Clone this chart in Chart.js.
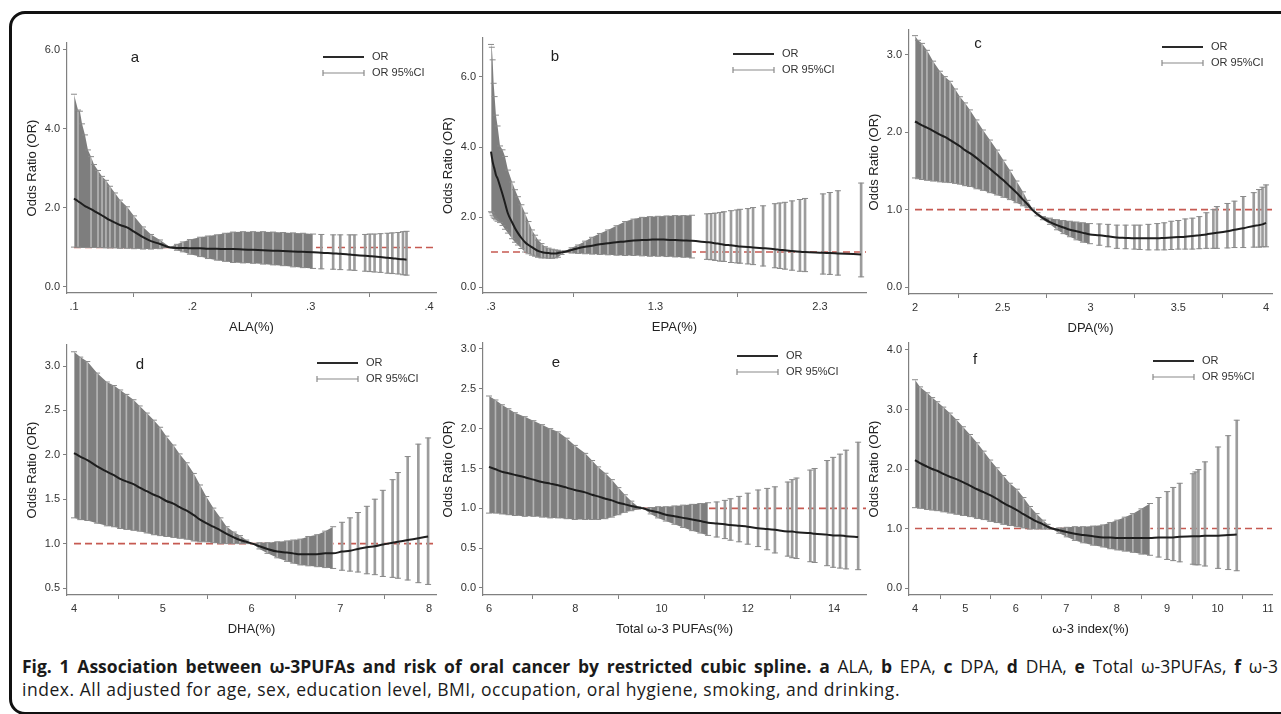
<!DOCTYPE html>
<html>
<head>
<meta charset="utf-8">
<script src="https://cdn.jsdelivr.net/npm/chart.js@4.4.1/dist/chart.umd.min.js"></script>
<style>
  html, body { margin: 0; padding: 0; background: #fff; }
  body { width: 1281px; height: 714px; position: relative; overflow: hidden; }
  #frame { position: absolute; left: 9px; top: 11px; width: 1300px; height: 704px; border: 3px solid #111; border-radius: 16px; box-sizing: border-box; }
  canvas { position: absolute; }
  #caption { position: absolute; left: 22px; top: 655px; font-family: "Open Sans", sans-serif; font-size: 17.5px; color: #1a1a1a; line-height: 23px; }
  #caption span.line { display: block; white-space: nowrap; width: max-content; }
  #caption b { font-weight: 700; }
</style>
</head>
<body>
<div id="frame"></div>
<div id="caption">
  <span class="line" id="cap1"><b>Fig. 1 Association between ω-3PUFAs and risk of oral cancer by restricted cubic spline. a</b> ALA, <b>b</b> EPA, <b>c</b> DPA, <b>d</b> DHA, <b>e</b> Total ω-3PUFAs, <b>f</b> ω-3</span>
  <span class="line" id="cap2">index. All adjusted for age, sex, education level, BMI, occupation, oral hygiene, smoking, and drinking.</span>
</div>
<script>
// ---- a: ALA ----
const alaX = [0.100,0.1034,0.105,0.1068,0.1093,0.1118,0.1144,0.1169,0.1203,0.1237,0.127,0.1304,0.1346,0.1389,0.1448,0.1507,0.1583,0.1651,0.1727,0.1811,
  0.187,0.192,0.198,0.2065,0.2132,0.2208,0.2276,0.2344,0.2428,0.2513,0.2597,0.2682,0.2766,0.2851,0.2935,0.302,
  0.309,0.319,0.325,0.333,0.337,0.346,0.350,0.354,0.359,0.365,0.369,0.374,0.378,0.381];
const alaOR = [2.24,2.17,2.14,2.10,2.05,2.01,1.97,1.93,1.87,1.81,1.75,1.69,1.63,1.57,1.51,1.40,1.26,1.16,1.09,1.00,
  0.99,0.99,0.98,0.98,0.97,0.97,0.96,0.96,0.95,0.94,0.93,0.92,0.91,0.90,0.89,0.88,
  0.87,0.85,0.84,0.82,0.81,0.79,0.78,0.77,0.76,0.74,0.73,0.71,0.70,0.69];
const alaLo = [1.01,1.01,1.00,1.00,1.00,1.00,1.00,1.00,1.00,1.00,0.99,0.99,0.99,0.98,0.98,0.97,0.96,0.96,0.97,1.00,
  0.93,0.89,0.83,0.77,0.72,0.68,0.65,0.62,0.61,0.60,0.58,0.56,0.54,0.51,0.49,0.47,
  0.46,0.45,0.44,0.43,0.42,0.40,0.39,0.38,0.37,0.35,0.34,0.33,0.31,0.30];
const alaHi = [4.88,4.48,4.45,4.13,3.85,3.47,3.30,3.10,2.95,2.80,2.70,2.55,2.38,2.20,2.03,1.80,1.52,1.33,1.19,1.01,
  1.08,1.14,1.20,1.26,1.29,1.32,1.36,1.39,1.40,1.40,1.40,1.39,1.38,1.37,1.36,1.34,
  1.33,1.32,1.32,1.32,1.32,1.33,1.34,1.34,1.35,1.36,1.37,1.38,1.40,1.41];
const alaXTicks = [0.1, 0.2, 0.3, 0.4];
const alaXLabels = ['.1', '.2', '.3', '.4'];
const alaYTicks = [0, 2, 4, 6];

// ---- b: EPA ----
const epaX = [0.300,0.305,0.310,0.316,0.322,0.330,0.340,0.355,0.370,0.385,0.403,0.428,0.446,0.464,0.485,0.507,0.528,0.549,0.568,0.586,
  0.607,0.628,0.650,0.671,0.690,0.707,0.729,0.750,0.790,0.829,0.872,0.914,0.962,1.011,1.063,1.115,1.166,1.218,1.266,1.315,
  1.367,1.419,1.470,1.522,
  1.613,1.638,1.662,1.692,1.716,1.759,1.795,1.814,1.862,1.893,1.954,2.026,2.056,2.087,2.130,2.178,2.209,2.318,2.360,2.409,2.550];
const epaOR = [3.87,3.72,3.58,3.46,3.36,3.20,3.10,2.88,2.65,2.40,2.10,1.85,1.68,1.54,1.40,1.28,1.20,1.14,1.08,1.03,
  1.00,0.98,0.97,0.96,0.96,0.97,0.99,1.01,1.06,1.11,1.15,1.18,1.22,1.25,1.28,1.30,1.33,1.34,1.35,1.36,
  1.35,1.34,1.33,1.32,
  1.28,1.27,1.25,1.23,1.21,1.19,1.17,1.16,1.14,1.13,1.11,1.08,1.06,1.05,1.03,1.01,1.00,0.98,0.97,0.96,0.93];
const epaLo = [2.15,2.12,2.05,2.00,1.96,1.92,1.88,1.84,1.76,1.65,1.54,1.38,1.28,1.20,1.10,1.00,0.95,0.91,0.88,0.85,
  0.83,0.83,0.82,0.82,0.83,0.85,0.93,0.99,0.97,0.96,0.95,0.94,0.93,0.92,0.91,0.90,0.90,0.89,0.88,0.88,
  0.87,0.86,0.85,0.83,
  0.79,0.78,0.76,0.74,0.73,0.70,0.69,0.68,0.66,0.64,0.60,0.55,0.53,0.51,0.48,0.45,0.44,0.37,0.36,0.34,0.29];
const epaHi = [6.93,6.85,6.49,5.82,5.44,4.91,4.60,4.03,3.92,3.73,3.34,3.00,2.78,2.58,2.35,2.11,1.87,1.63,1.48,1.34,
  1.24,1.15,1.11,1.08,1.06,1.05,1.03,1.03,1.12,1.20,1.31,1.42,1.53,1.63,1.75,1.87,1.94,1.99,2.01,2.02,
  2.03,2.04,2.04,2.05,
  2.09,2.10,2.11,2.13,2.15,2.18,2.20,2.22,2.24,2.27,2.32,2.38,2.40,2.42,2.46,2.50,2.53,2.66,2.70,2.75,2.97];
const epaXTicks = [0.3, 1.3, 2.3];
const epaXLabels = ['.3', '1.3', '2.3'];
const epaYTicks = [0, 2, 4, 6];

// ---- c: DPA ----
const dpaX = [2.000,2.017,2.040,2.068,2.103,2.142,2.170,2.200,2.228,2.256,2.285,2.313,2.350,2.387,2.427,2.467,2.504,2.541,2.578,2.615,
  2.641,2.667,2.698,2.729,2.769,2.809,2.846,2.883,2.920,2.957,2.997,
  3.05,3.10,3.15,3.20,3.25,3.28,3.33,3.38,3.42,3.46,3.50,3.54,3.58,3.62,3.66,3.70,3.72,3.78,3.82,3.87,3.93,3.96,3.98,4.00];
const dpaOR = [2.14,2.12,2.09,2.06,2.02,1.97,1.94,1.90,1.86,1.82,1.77,1.73,1.67,1.60,1.53,1.45,1.38,1.30,1.22,1.13,
  1.07,1.00,0.94,0.89,0.84,0.80,0.77,0.74,0.72,0.70,0.68,
  0.67,0.655,0.64,0.635,0.63,0.63,0.63,0.63,0.635,0.64,0.645,0.65,0.66,0.67,0.68,0.695,0.70,0.72,0.74,0.76,0.79,0.80,0.81,0.83];
const dpaLo = [1.41,1.40,1.39,1.38,1.37,1.36,1.355,1.35,1.34,1.33,1.31,1.30,1.27,1.25,1.22,1.19,1.16,1.13,1.09,1.05,
  1.03,1.00,0.92,0.87,0.81,0.74,0.69,0.65,0.61,0.58,0.56,
  0.54,0.52,0.50,0.495,0.49,0.485,0.48,0.48,0.48,0.485,0.49,0.49,0.49,0.495,0.50,0.50,0.50,0.505,0.51,0.51,0.515,0.515,0.52,0.52];
const dpaHi = [3.25,3.19,3.15,3.06,2.92,2.79,2.72,2.66,2.56,2.46,2.38,2.29,2.16,2.03,1.90,1.77,1.64,1.51,1.37,1.23,
  1.12,1.02,0.96,0.91,0.89,0.87,0.86,0.85,0.84,0.83,0.82,
  0.815,0.81,0.80,0.80,0.80,0.80,0.81,0.82,0.83,0.85,0.86,0.88,0.89,0.91,0.96,1.00,1.04,1.08,1.11,1.17,1.22,1.26,1.29,1.32];
const dpaXTicks = [2, 2.5, 3, 3.5, 4];
const dpaXLabels = ['2', '2.5', '3', '3.5', '4'];
const dpaYTicks = [0, 1, 2, 3];

// ---- d: DHA ----
const dhaX = [4.00,4.07,4.15,4.26,4.37,4.45,4.52,4.59,4.67,4.74,4.82,4.90,4.97,5.04,5.12,5.19,5.27,5.35,5.42,5.49,
  5.57,5.65,5.72,5.80,5.87,5.94,6.01,6.09,6.18,6.29,6.40,6.47,6.55,6.64,6.74,6.83,6.92,
  7.02,7.11,7.20,7.30,7.39,7.48,7.59,7.65,7.76,7.88,7.99];
const dhaOR = [2.02,1.98,1.94,1.87,1.81,1.77,1.73,1.70,1.67,1.63,1.59,1.55,1.52,1.48,1.45,1.41,1.37,1.32,1.27,1.23,
  1.19,1.15,1.11,1.07,1.04,1.02,1.00,0.97,0.94,0.91,0.90,0.89,0.88,0.88,0.88,0.89,0.89,
  0.91,0.92,0.94,0.96,0.97,0.99,1.01,1.02,1.04,1.06,1.08];
const dhaLo = [1.29,1.27,1.26,1.23,1.20,1.19,1.17,1.16,1.15,1.14,1.12,1.10,1.09,1.08,1.07,1.06,1.05,1.03,1.02,1.02,
  1.01,1.00,1.00,1.00,1.00,1.00,1.00,0.94,0.89,0.84,0.80,0.78,0.76,0.75,0.74,0.73,0.72,
  0.70,0.69,0.68,0.66,0.65,0.63,0.62,0.61,0.59,0.56,0.54];
const dhaHi = [3.16,3.10,3.05,2.92,2.82,2.78,2.73,2.68,2.62,2.55,2.47,2.39,2.31,2.21,2.11,2.01,1.91,1.79,1.66,1.53,
  1.40,1.29,1.19,1.13,1.09,1.04,1.00,1.01,1.01,1.02,1.03,1.04,1.05,1.08,1.10,1.14,1.19,
  1.24,1.29,1.35,1.42,1.50,1.60,1.72,1.80,1.98,2.12,2.19];
const dhaXTicks = [4, 5, 6, 7, 8];
const dhaXLabels = ['4', '5', '6', '7', '8'];
const dhaYTicks = [0.5, 1, 1.5, 2, 2.5, 3];

// ---- e: Total ω-3 PUFAs ----
const totX = [6.00,6.15,6.30,6.45,6.60,6.83,7.03,7.23,7.42,7.60,7.80,7.99,8.23,8.39,8.53,8.70,8.85,9.00,9.15,9.30,
  9.46,9.57,9.75,9.92,10.10,10.30,10.50,10.71,10.90,11.08,11.28,11.47,
  11.60,11.80,12.00,12.24,12.45,12.63,12.93,13.03,13.13,13.45,13.55,13.84,13.98,14.14,14.28,14.56];
const totOR = [1.52,1.49,1.46,1.44,1.42,1.39,1.36,1.33,1.31,1.29,1.26,1.23,1.20,1.17,1.15,1.12,1.10,1.07,1.05,1.03,
  1.01,1.00,0.97,0.95,0.92,0.90,0.88,0.86,0.84,0.82,0.81,0.80,
  0.79,0.78,0.77,0.75,0.74,0.73,0.71,0.71,0.70,0.69,0.68,0.67,0.66,0.66,0.65,0.64];
const totLo = [0.94,0.94,0.93,0.92,0.91,0.90,0.90,0.89,0.88,0.88,0.87,0.86,0.86,0.86,0.86,0.87,0.89,0.92,0.95,0.97,
  0.99,1.00,0.93,0.88,0.84,0.80,0.76,0.72,0.69,0.66,0.64,0.62,
  0.60,0.58,0.55,0.52,0.48,0.44,0.40,0.38,0.37,0.33,0.32,0.28,0.26,0.25,0.24,0.23];
const totHi = [2.41,2.36,2.30,2.25,2.20,2.15,2.10,2.05,2.00,1.96,1.88,1.79,1.69,1.60,1.52,1.44,1.36,1.26,1.17,1.09,
  1.02,1.00,1.01,1.02,1.02,1.03,1.04,1.05,1.06,1.07,1.08,1.10,
  1.12,1.15,1.19,1.23,1.25,1.27,1.33,1.36,1.38,1.48,1.50,1.60,1.64,1.68,1.73,1.83];
const totXTicks = [6, 8, 10, 12, 14];
const totXLabels = ['6', '8', '10', '12', '14'];
const totYTicks = [0, 0.5, 1, 1.5, 2, 2.5, 3];

// ---- f: ω-3 index ----
const idxX = [4.00,4.10,4.24,4.34,4.44,4.56,4.69,4.82,4.95,5.09,5.23,5.36,5.49,5.62,5.75,5.88,6.02,6.15,6.28,6.41,
  6.54,6.63,6.72,6.86,7.01,7.17,7.33,7.53,7.73,7.87,8.01,8.16,8.32,8.49,8.66,
  8.83,9.00,9.12,9.25,9.51,9.56,9.62,9.75,10.01,10.21,10.38];
const idxOR = [2.15,2.10,2.04,2.00,1.97,1.92,1.87,1.83,1.78,1.72,1.66,1.61,1.56,1.50,1.43,1.37,1.31,1.24,1.18,1.12,
  1.07,1.03,1.00,0.97,0.94,0.91,0.89,0.87,0.85,0.85,0.84,0.84,0.84,0.84,0.84,
  0.85,0.85,0.85,0.86,0.87,0.87,0.87,0.88,0.88,0.89,0.90];
const idxLo = [1.35,1.34,1.32,1.31,1.30,1.28,1.26,1.24,1.22,1.20,1.17,1.15,1.12,1.10,1.07,1.05,1.03,1.01,0.99,0.99,
  0.99,0.99,0.99,0.92,0.86,0.80,0.76,0.72,0.69,0.66,0.64,0.62,0.60,0.57,0.55,
  0.52,0.48,0.46,0.44,0.40,0.39,0.39,0.37,0.33,0.31,0.29];
const idxHi = [3.50,3.38,3.28,3.20,3.13,3.04,2.94,2.83,2.71,2.58,2.44,2.30,2.15,2.02,1.89,1.76,1.66,1.52,1.37,1.25,
  1.14,1.07,1.00,1.01,1.02,1.03,1.03,1.04,1.06,1.10,1.14,1.19,1.25,1.33,1.42,
  1.52,1.62,1.69,1.76,1.92,1.95,1.99,2.12,2.37,2.56,2.82];
const idxXTicks = [4, 5, 6, 7, 8, 9, 10, 11];
const idxXLabels = ['4', '5', '6', '7', '8', '9', '10', '11'];
const idxYTicks = [0, 1, 2, 3, 4];

const FONT = '"Liberation Sans", Arial, Helvetica, sans-serif';
const AXIS = '#808080';
const BAND = '#7e7e7e';
const STREAK = 'rgba(255,255,255,0.42)';
const BAR = '#9c9c9c';
const CAP = '#8a8a8a';
const CLEAR = 'rgba(0,0,0,0)';

const panels = [
  { letter: 'a', x: alaX, or: alaOR, lo: alaLo, hi: alaHi, denseTo: 0.305, xTicks: alaXTicks, xLabels: alaXLabels, yTicks: alaYTicks,
    xTitle: 'ALA(%)', box: [67, 43, 436, 293], xr: [0.0941, 0.4059], yr: [-0.152, 6.177], letterAt: [68, 15], legAt: [-113, 14] },
  { letter: 'b', x: epaX, or: epaOR, lo: epaLo, hi: epaHi, denseTo: 1.55, xTicks: epaXTicks, xLabels: epaXLabels, yTicks: epaYTicks,
    xTitle: 'EPA(%)', box: [483, 38, 866, 293], xr: [0.2514, 2.5796], yr: [-0.171, 7.114], letterAt: [72, 19], legAt: [-133, 16] },
  { letter: 'c', x: dpaX, or: dpaOR, lo: dpaLo, hi: dpaHi, denseTo: 3.0, xTicks: dpaXTicks, xLabels: dpaXLabels, yTicks: dpaYTicks,
    xTitle: 'DPA(%)', box: [909, 30, 1272, 294], xr: [1.9658, 4.034], yr: [-0.0905, 3.323], letterAt: [69, 14], legAt: [-110, 17] },
  { letter: 'd', x: dhaX, or: dhaOR, lo: dhaLo, hi: dhaHi, denseTo: 6.95, xTicks: dhaXTicks, xLabels: dhaXLabels, yTicks: dhaYTicks,
    xTitle: 'DHA(%)', box: [67, 345, 436, 595], xr: [3.921, 8.079], yr: [0.4212, 3.2365], letterAt: [73, 20], legAt: [-119, 18] },
  { letter: 'e', x: totX, or: totOR, lo: totLo, hi: totHi, denseTo: 11.1, xTicks: totXTicks, xLabels: totXLabels, yTicks: totYTicks,
    xTitle: 'Total ω-3 PUFAs(%)', box: [483, 343, 866, 595], xr: [5.861, 14.742], yr: [-0.0879, 3.0753], letterAt: [73, 20], legAt: [-129, 13] },
  { letter: 'f', x: idxX, or: idxOR, lo: idxLo, hi: idxHi, denseTo: 8.7, xTicks: idxXTicks, xLabels: idxXLabels, yTicks: idxYTicks,
    xTitle: 'ω-3 index(%)', box: [909, 343, 1272, 595], xr: [3.881, 11.079], yr: [-0.1176, 4.1176], letterAt: [66, 17], legAt: [-119, 18] }
];

const decor = {
  id: 'decor',
  afterDraw(chart, args, o) {
    const { ctx, chartArea: a } = chart;
    ctx.save();
    ctx.fillStyle = '#222';
    ctx.font = '15px ' + FONT;
    ctx.textAlign = 'center';
    ctx.textBaseline = 'middle';
    ctx.fillText(o.letter, a.left + o.letterAt[0], a.top + o.letterAt[1]);

    const x0 = a.right + o.legAt[0], y0 = a.top + o.legAt[1], len = 41, y1 = y0 + 16;
    ctx.strokeStyle = '#2a2a2a';
    ctx.lineWidth = 2;
    ctx.beginPath(); ctx.moveTo(x0, y0); ctx.lineTo(x0 + len, y0); ctx.stroke();
    ctx.strokeStyle = '#8a8a8a';
    ctx.lineWidth = 1.2;
    ctx.beginPath();
    ctx.moveTo(x0, y1); ctx.lineTo(x0 + len, y1);
    ctx.moveTo(x0, y1 - 3); ctx.lineTo(x0, y1 + 3);
    ctx.moveTo(x0 + len, y1 - 3); ctx.lineTo(x0 + len, y1 + 3);
    ctx.stroke();
    ctx.fillStyle = '#333';
    ctx.font = '11px ' + FONT;
    ctx.textAlign = 'left';
    ctx.fillText('OR', x0 + len + 8, y0);
    ctx.fillText('OR 95%CI', x0 + len + 8, y1);
    ctx.restore();
  }
};

function makePanel(p) {
  const [L, T, R, B] = p.box;
  const cv = document.createElement('canvas');
  const left = L - 45, top = T - 10;
  cv.width = R + 12 - left;
  cv.height = B + 43 - top;
  cv.style.left = left + 'px';
  cv.style.top = top + 'px';
  document.body.appendChild(cv);

  const pts = arr => p.x.map((x, i) => ({ x: x, y: arr[i] }));
  const denseBars = [], sparseBars = [];
  p.x.forEach((x, i) => {
    const d = { x: x, y: [p.lo[i], p.hi[i]] };
    if (x <= p.denseTo) denseBars.push(d); else sparseBars.push(d);
  });

  // light streaks inside the dense band, skipped where the observations crowd together
  const streak = c => {
    const i = c.dataIndex;
    if (i === 0) return STREAK;
    const sx = c.chart.scales.x;
    const gap = sx.getPixelForValue(denseBars[i].x) - sx.getPixelForValue(denseBars[i - 1].x);
    return gap < 3 ? CLEAR : STREAK;
  };

  const tickFont = { family: FONT, size: 11 };
  const titleFont = { family: FONT, size: 13 };

  new Chart(cv, {
    type: 'line',
    data: {
      datasets: [
        { data: [{ x: p.x[0], y: 1 }, { x: p.xr[1], y: 1 }], borderColor: '#c65a52', borderWidth: 1.6,
          borderDash: [7, 4], pointRadius: 0, order: 6 },
        { data: pts(p.hi), borderColor: CLEAR, borderWidth: 1, pointRadius: 0, order: 5,
          fill: '+1', backgroundColor: BAND,
          segment: { backgroundColor: c => p.x[c.p1DataIndex] <= p.denseTo ? BAND : CLEAR } },
        { data: pts(p.lo), borderColor: CLEAR, borderWidth: 1, pointRadius: 0, fill: false, order: 5 },
        { type: 'bar', data: denseBars, backgroundColor: streak, barThickness: 1, grouped: false, order: 4 },
        { type: 'bar', data: sparseBars, backgroundColor: BAR, barThickness: 2, grouped: false, order: 4 },
        { data: pts(p.hi).concat(pts(p.lo)), showLine: false, pointStyle: 'line', pointRadius: 3,
          pointBorderColor: CAP, pointBorderWidth: 1, order: 3 },
        { data: pts(p.or), borderColor: '#1e1e1e', borderWidth: 2, pointRadius: 0,
          cubicInterpolationMode: 'monotone', order: 1 }
      ]
    },
    options: {
      responsive: false,
      animation: false,
      devicePixelRatio: 1,
      events: [],
      layout: { padding: { left: 0, top: 10, right: 12, bottom: 0 }, autoPadding: false },
      plugins: {
        legend: { display: false },
        tooltip: { enabled: false },
        decor: { letter: p.letter, letterAt: p.letterAt, legAt: p.legAt }
      },
      scales: {
        x: {
          type: 'linear', min: p.xr[0], max: p.xr[1], bounds: 'data', offset: false,
          afterBuildTicks: s => { s.ticks = p.xTicks.map(v => ({ value: v })); },
          afterFit: s => { s.height = 43; },
          ticks: { callback: (v, i) => p.xLabels[i], font: tickFont, color: '#333', padding: 3, maxRotation: 0, autoSkip: false },
          grid: { drawOnChartArea: false, drawTicks: true, tickLength: 4, color: AXIS },
          border: { color: AXIS, width: 1.2 },
          title: { display: true, text: p.xTitle, font: titleFont, color: '#222', padding: { top: 0, bottom: 1 } }
        },
        y: {
          type: 'linear', min: p.yr[0], max: p.yr[1], bounds: 'data',
          afterBuildTicks: s => { s.ticks = p.yTicks.map(v => ({ value: v })); },
          afterFit: s => { s.width = 45; },
          ticks: { callback: v => v.toFixed(1), font: tickFont, color: '#333', padding: 3, autoSkip: false },
          grid: { drawOnChartArea: false, drawTicks: true, tickLength: 4, color: AXIS },
          border: { color: AXIS, width: 1.2 },
          title: { display: true, text: 'Odds Ratio (OR)', font: titleFont, color: '#222', padding: { top: 3, bottom: 0 } }
        }
      }
    },
    plugins: [decor]
  });
}

panels.forEach(makePanel);

// stretch the caption lines to the widths they take in the figure
function fitWords(id, target) {
  const el = document.getElementById(id);
  el.style.wordSpacing = '0px';
  const natural = el.getBoundingClientRect().width;
  const gaps = (el.textContent.match(/ +/g) || []).length;
  el.style.wordSpacing = ((target - natural) / gaps).toFixed(2) + 'px';
}
function fitLetters(id, target) {
  const el = document.getElementById(id);
  el.style.letterSpacing = '0px';
  const natural = el.getBoundingClientRect().width;
  const chars = el.textContent.length;
  el.style.letterSpacing = ((target - natural) / chars).toFixed(3) + 'px';
}
function fitCaption() {
  fitWords('cap1', 1256);
  fitLetters('cap2', 878);
}
fitCaption();
if (document.fonts) document.fonts.ready.then(fitCaption);
</script>
</body>
</html>
